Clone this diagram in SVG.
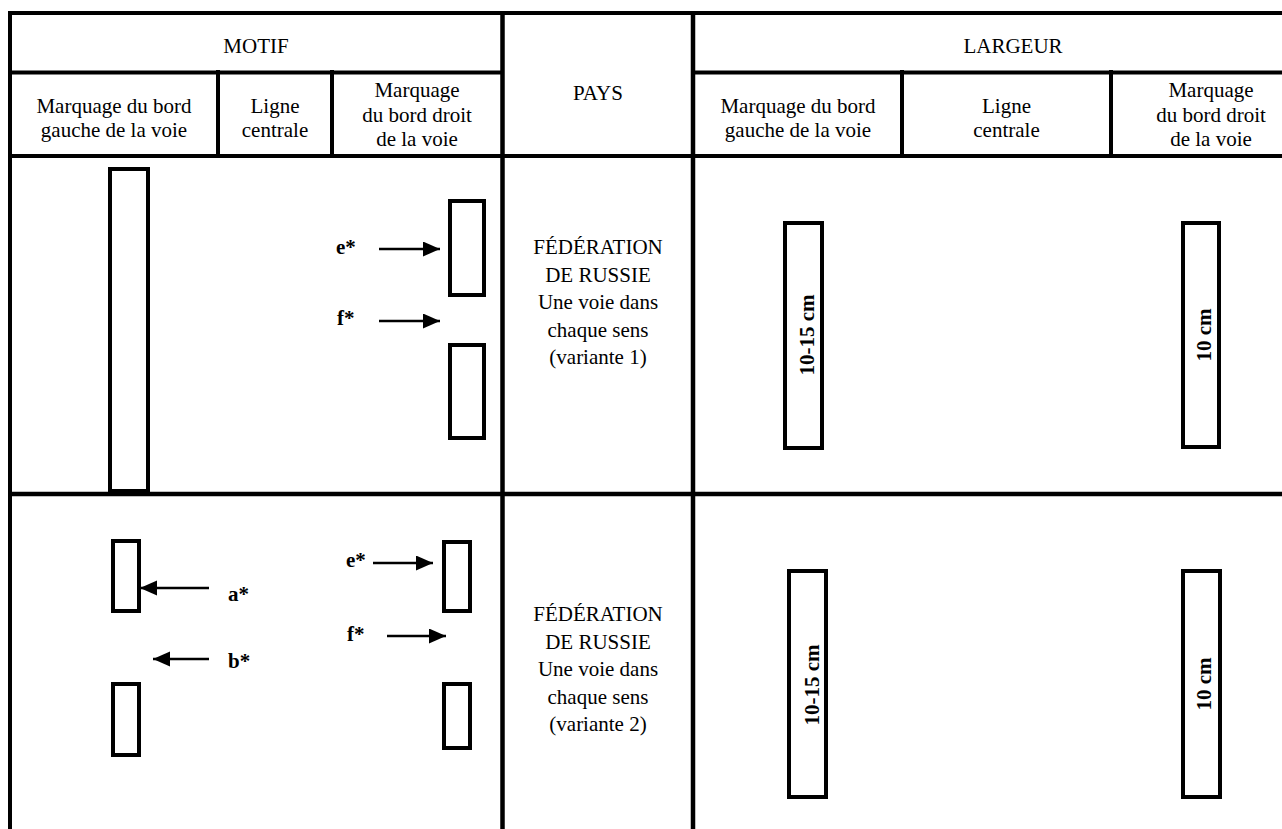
<svg xmlns="http://www.w3.org/2000/svg" width="1282" height="829" viewBox="0 0 1282 829">
<defs>
<style>
.t{font-family:"Liberation Serif","Times New Roman",serif;font-size:21px;fill:#000;text-anchor:middle}
.b{font-family:"Liberation Serif","Times New Roman",serif;font-size:21px;font-weight:bold;fill:#000}
.bc{text-anchor:middle}
.grid{stroke:#000;stroke-width:4;fill:none}
.mk{fill:#fff;stroke:#000;stroke-width:4}
.arr{stroke:#000;stroke-width:2.5;fill:none;marker-end:url(#ah)}
</style>
<marker id="ah" markerUnits="userSpaceOnUse" markerWidth="18" markerHeight="16" refX="17" refY="7.5" orient="auto">
<path d="M0,0 L17,7.5 L0,15 z" fill="#000"/>
</marker>
</defs>
<rect width="1282" height="829" fill="#fff"/>
<g id="grid" class="grid">
<line x1="8" y1="13" x2="1282" y2="13"/>
<line x1="10" y1="72.5" x2="503" y2="72.5"/>
<line x1="694" y1="72.5" x2="1282" y2="72.5"/>
<line x1="10" y1="156" x2="1282" y2="156"/>
<line x1="10" y1="494" x2="1282" y2="494" stroke-width="4.5"/>
<line x1="10" y1="11" x2="10" y2="829"/>
<line x1="502.5" y1="11" x2="502.5" y2="829" stroke-width="4.5"/>
<line x1="693" y1="11" x2="693" y2="829" stroke-width="4.5"/>
<line x1="218" y1="70" x2="218" y2="156"/>
<line x1="332" y1="70" x2="332" y2="156"/>
<line x1="902" y1="70" x2="902" y2="156"/>
<line x1="1111" y1="70" x2="1111" y2="156"/>
</g>
<g id="header">
<text class="t" x="256" y="53">MOTIF</text>
<text class="t" x="1013" y="53">LARGEUR</text>
<text class="t" x="598" y="100">PAYS</text>
<text class="t" x="114" y="113">Marquage du bord</text>
<text class="t" x="114" y="137">gauche de la voie</text>
<text class="t" x="275" y="113">Ligne</text>
<text class="t" x="275" y="137">centrale</text>
<text class="t" x="417" y="97">Marquage</text>
<text class="t" x="417" y="121.5">du bord droit</text>
<text class="t" x="417" y="146">de la voie</text>
<text class="t" x="798" y="113">Marquage du bord</text>
<text class="t" x="798" y="137">gauche de la voie</text>
<text class="t" x="1006.5" y="113">Ligne</text>
<text class="t" x="1006.5" y="137">centrale</text>
<text class="t" x="1211" y="97">Marquage</text>
<text class="t" x="1211" y="121.5">du bord droit</text>
<text class="t" x="1211" y="146">de la voie</text>
</g>
<g id="row1-motif">
<rect class="mk" x="110" y="169" width="38" height="322"/>
<rect class="mk" x="450" y="201" width="34" height="94"/>
<rect class="mk" x="450" y="345" width="34" height="93"/>
<text class="b" x="336" y="254">e*</text>
<text class="b" x="337" y="325">f*</text>
</g>
<g id="row1-pays">
<text class="t" x="598" y="254">FÉDÉRATION</text>
<text class="t" x="598" y="281.5">DE RUSSIE</text>
<text class="t" x="598" y="309">Une voie dans</text>
<text class="t" x="598" y="336.5">chaque sens</text>
<text class="t" x="598" y="364">(variante 1)</text>
</g>
<g id="row1-largeur">
<rect class="mk" x="785" y="223" width="37" height="225"/>
<text class="b bc" transform="translate(814,335) rotate(-90)">10-15 cm</text>
<rect class="mk" x="1183" y="223" width="36" height="224"/>
<text class="b bc" transform="translate(1210.5,335) rotate(-90)">10 cm</text>
</g>
<g id="row2-motif">
<rect class="mk" x="113" y="541" width="26" height="70"/>
<rect class="mk" x="113" y="684" width="26" height="71"/>
<rect class="mk" x="444" y="542" width="26" height="69"/>
<rect class="mk" x="444" y="684" width="26" height="64"/>
<text class="b" x="228" y="601">a*</text>
<text class="b" x="228" y="668">b*</text>
<text class="b" x="346" y="567">e*</text>
<text class="b" x="347" y="641">f*</text>
</g>
<g id="row2-pays">
<text class="t" x="598" y="621">FÉDÉRATION</text>
<text class="t" x="598" y="648.5">DE RUSSIE</text>
<text class="t" x="598" y="676">Une voie dans</text>
<text class="t" x="598" y="703.5">chaque sens</text>
<text class="t" x="598" y="731">(variante 2)</text>
</g>
<g id="row2-largeur">
<rect class="mk" x="789" y="571" width="37" height="226"/>
<text class="b bc" transform="translate(819,685) rotate(-90)">10-15 cm</text>
<rect class="mk" x="1183" y="571" width="37" height="226"/>
<text class="b bc" transform="translate(1210.5,684) rotate(-90)">10 cm</text>
</g>
<g id="connectors">
<line class="arr" x1="379" y1="249" x2="440" y2="249"/>
<line class="arr" x1="379" y1="321" x2="440" y2="321"/>
<line class="arr" x1="209" y1="588" x2="140" y2="588"/>
<line class="arr" x1="209" y1="659" x2="153" y2="659"/>
<line class="arr" x1="373" y1="563" x2="433" y2="563"/>
<line class="arr" x1="387" y1="636" x2="446" y2="636"/>
</g>
</svg>
